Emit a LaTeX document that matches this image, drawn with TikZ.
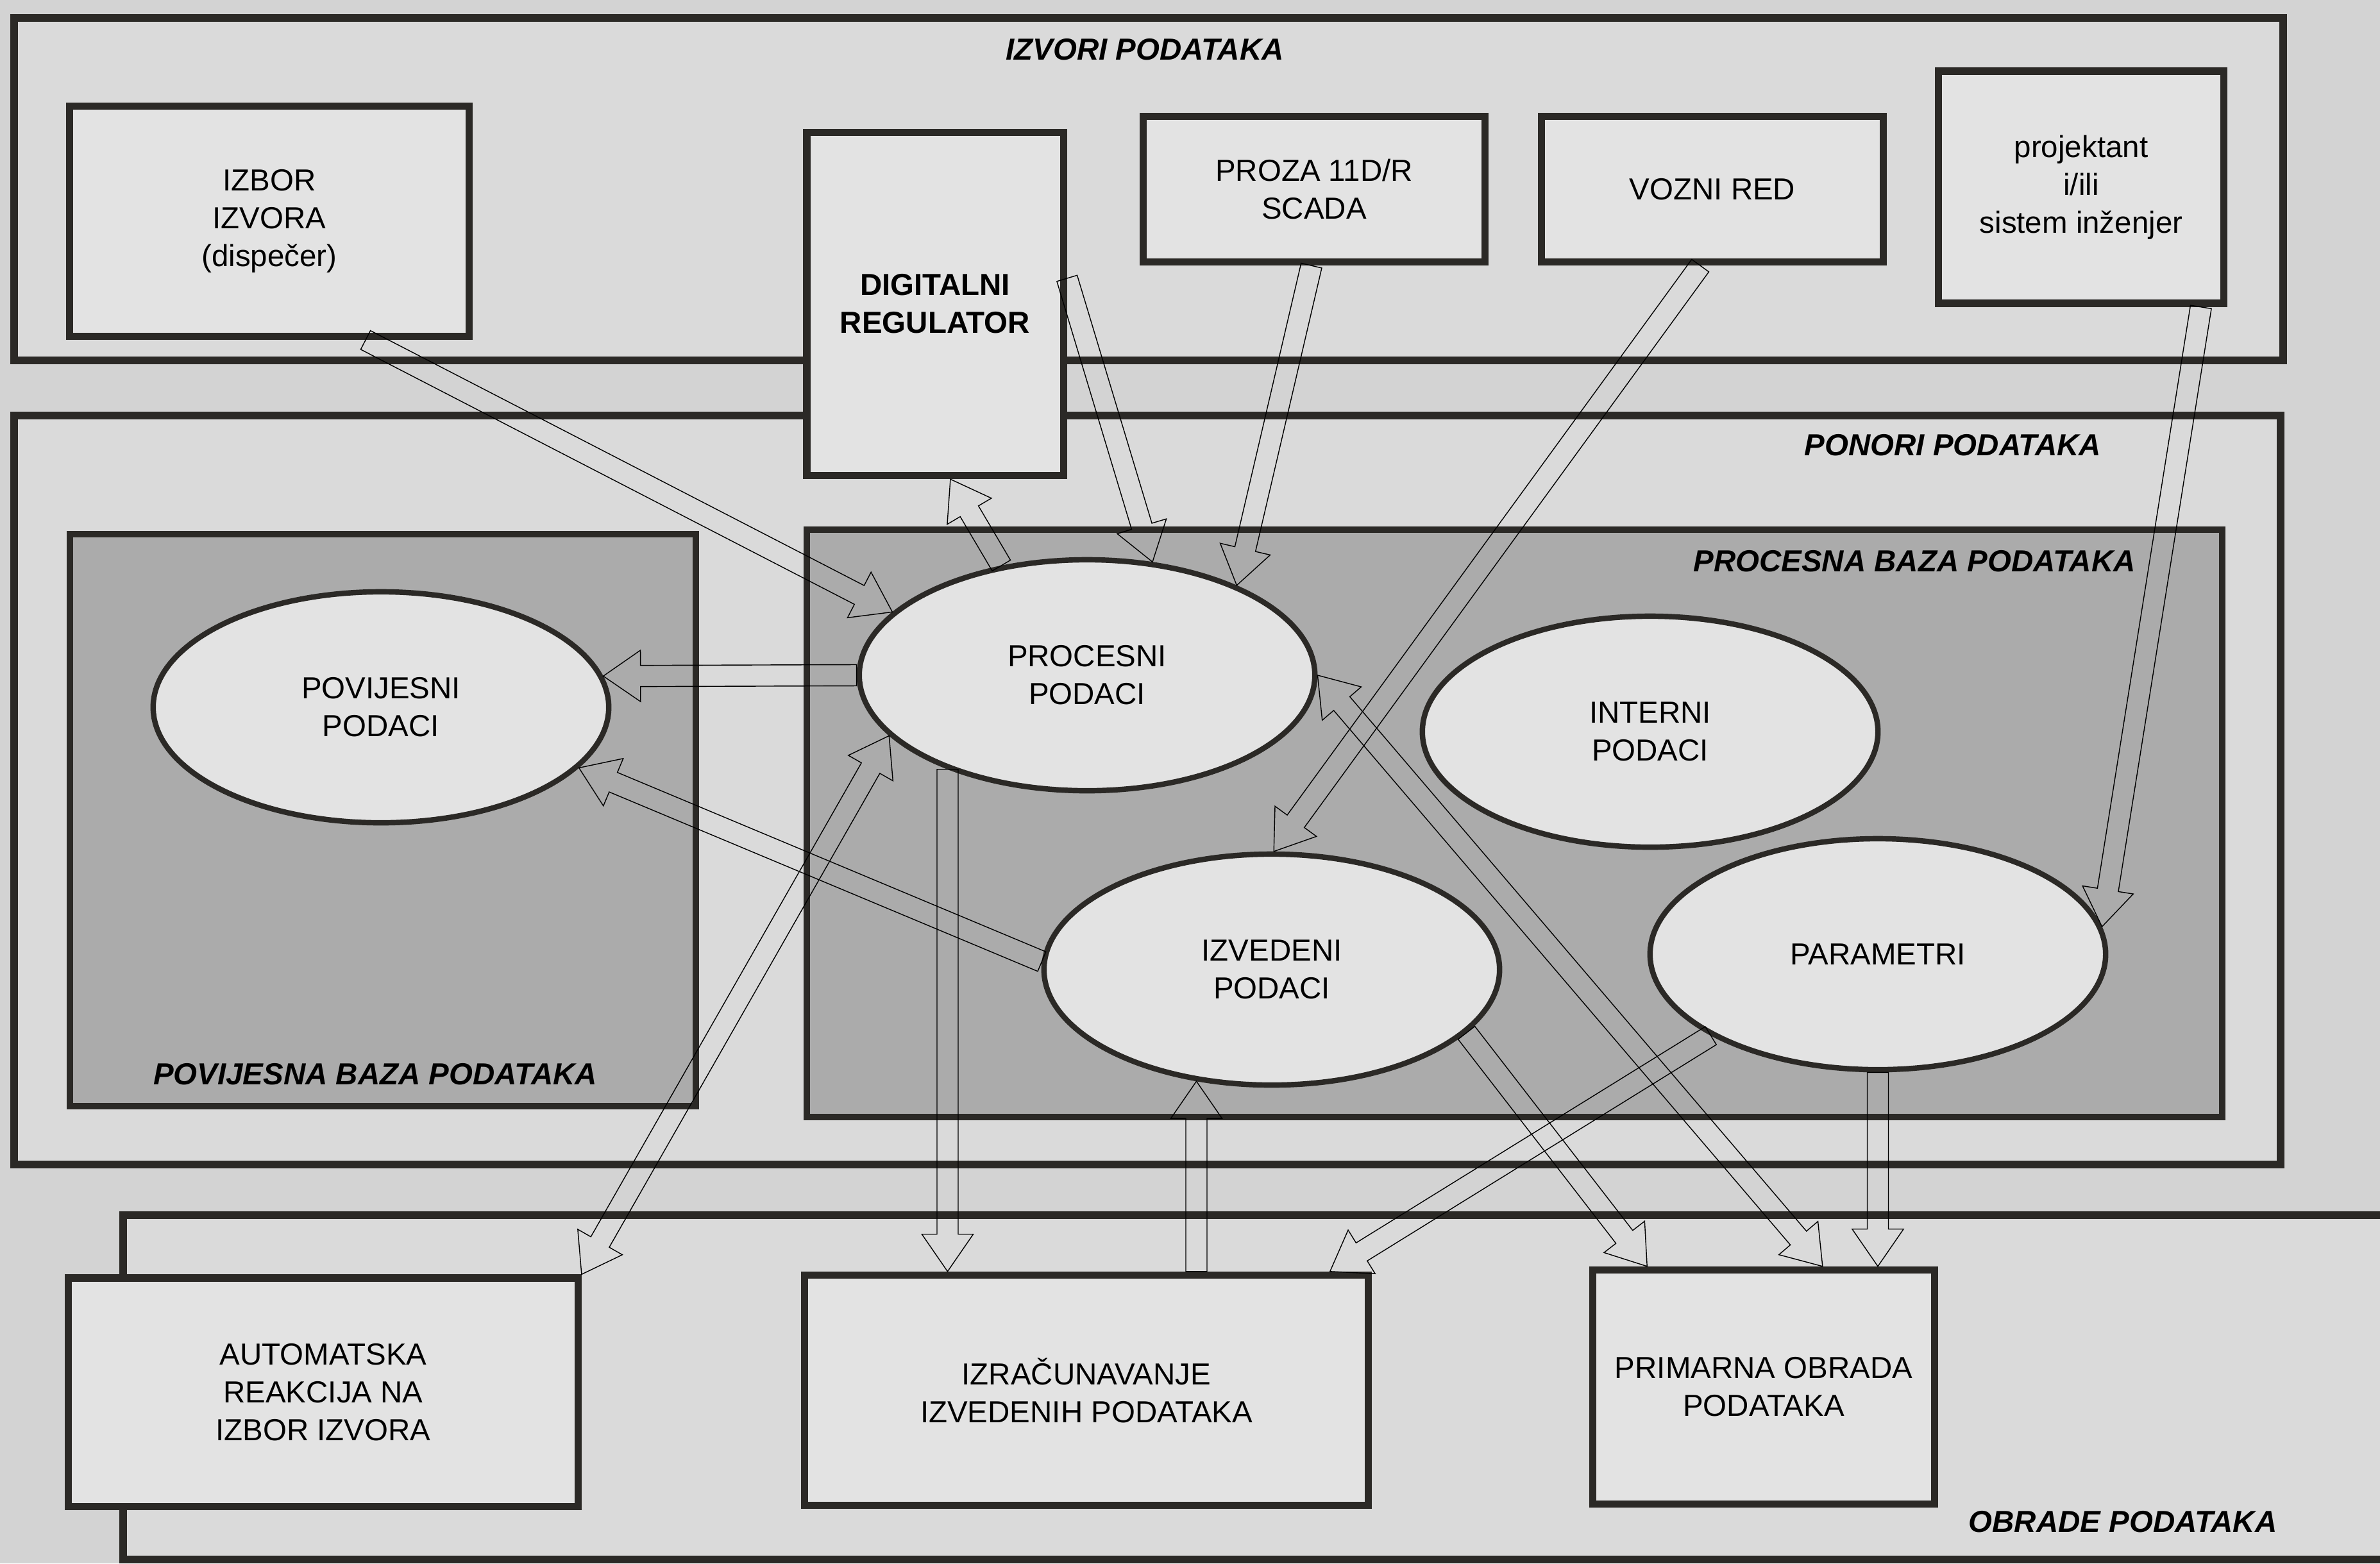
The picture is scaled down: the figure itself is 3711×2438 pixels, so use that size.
\documentclass[tikz,border=0pt]{standalone}
\usepackage{fontspec}
\setmainfont{Liberation Sans}
\usetikzlibrary{calc,shapes.geometric}

\definecolor{paper}{HTML}{D3D3D3}
\definecolor{framegray}{HTML}{DADADA}
\definecolor{basegray}{HTML}{ABABAB}
\definecolor{boxgray}{HTML}{E3E3E3}
\definecolor{ink}{HTML}{2B2926}
\definecolor{arrowgray}{HTML}{E6E6E6}

\newcommand{\shaftw}{0.165cm}
\newcommand{\headw}{0.4cm}
\newcommand{\headl}{0.58cm}

\tikzset{
	txt/.style={font=\fontsize{13.5}{16.8}\selectfont, align=center},
	title/.style={font=\fontsize{13.5}{16.8}\selectfont\bfseries\itshape},
	groupframe/.style={draw=ink, line width=3.2pt, fill=framegray},
	dbase/.style={draw=ink, line width=3pt, fill=basegray},
	databox/.style={rectangle, draw=ink, line width=3.2pt, fill=boxgray, inner sep=0pt, txt},
	store/.style={ellipse, draw=ink, line width=2.4pt, fill=boxgray, inner sep=0pt,
		minimum width=7.1cm, minimum height=3.6cm, txt},
	fatarrow/.style={draw=black, line width=1.1pt, fill=arrowgray, line join=miter,
		to path={let \p1=($(\tikztotarget)-(\tikztostart)$), \n1={atan2(\y1,\x1)} in
			($(\tikztostart)+(\n1+90:\shaftw)$)
			-- ($(\tikztotarget)+(\n1+180:\headl)+(\n1+90:\shaftw)$)
			-- ($(\tikztotarget)+(\n1+180:\headl)+(\n1+90:\headw)$)
			-- (\tikztotarget)
			-- ($(\tikztotarget)+(\n1+180:\headl)+(\n1-90:\headw)$)
			-- ($(\tikztotarget)+(\n1+180:\headl)+(\n1-90:\shaftw)$)
			-- ($(\tikztostart)+(\n1-90:\shaftw)$) -- cycle}},
	fatboth/.style={draw=black, line width=1.1pt, fill=arrowgray, line join=miter,
		to path={let \p1=($(\tikztotarget)-(\tikztostart)$), \n1={atan2(\y1,\x1)} in
			(\tikztostart)
			-- ($(\tikztostart)+(\n1:\headl)+(\n1+90:\headw)$)
			-- ($(\tikztostart)+(\n1:\headl)+(\n1+90:\shaftw)$)
			-- ($(\tikztotarget)+(\n1+180:\headl)+(\n1+90:\shaftw)$)
			-- ($(\tikztotarget)+(\n1+180:\headl)+(\n1+90:\headw)$)
			-- (\tikztotarget)
			-- ($(\tikztotarget)+(\n1+180:\headl)+(\n1-90:\headw)$)
			-- ($(\tikztotarget)+(\n1+180:\headl)+(\n1-90:\shaftw)$)
			-- ($(\tikztostart)+(\n1:\headl)+(\n1-90:\shaftw)$)
			-- ($(\tikztostart)+(\n1:\headl)+(\n1-90:\headw)$) -- cycle}},
}

\begin{document}
\begin{tikzpicture}[x=0.01cm, y=-0.01cm]
	\useasboundingbox (0,0) rectangle (3711,2438);
	\fill[paper] (0,0) rectangle (3711,2438);
	
	%Frames
	\draw[groupframe] (22,28) rectangle (3560,562);
	\draw[groupframe] (22,648) rectangle (3556,1816);
	\draw[groupframe] (192,1895) rectangle (3780,2432);
	\draw[dbase] (109,833) rectangle (1085,1725);
	\draw[dbase] (1258,826) rectangle (3465,1742);
	
	\node[title] (tsrc) at (1785,77) {IZVORI PODATAKA};
	\node[title] (tsink) at (3045,694) {PONORI PODATAKA};
	\node[title] (tproc) at (2985,875) {PROCESNA BAZA PODATAKA};
	\node[title] (thist) at (585,1675) {POVIJESNA BAZA PODATAKA};
	\node[title] (twork) at (3310,2373) {OBRADE PODATAKA};
	
	%Data
	\node[store] (pov) at (594,1103) {POVIJESNI\\PODACI};
	\node[store] (proc) at (1695,1053) {PROCESNI\\PODACI};
	\node[store] (int) at (2573,1141) {INTERNI\\PODACI};
	\node[store] (izv) at (1983,1512) {IZVEDENI\\PODACI};
	\node[store] (par) at (2928,1488) {PARAMETRI};
	
	%Sources
	\node[databox, minimum width=6.22cm, minimum height=3.59cm] (izbor) at (420,345) {IZBOR\\IZVORA\\(dispečer)};
	\node[databox, minimum width=4cm, minimum height=5.35cm, font=\fontsize{13.5}{16.8}\selectfont\bfseries] (reg) at (1458,474) {DIGITALNI\\REGULATOR};
	\node[databox, minimum width=5.33cm, minimum height=2.27cm] (proza) at (2049,295) {PROZA 11D/R\\SCADA};
	\node[databox, minimum width=5.33cm, minimum height=2.27cm] (vozni) at (2670,295) {VOZNI RED};
	\node[databox, minimum width=4.45cm, minimum height=3.62cm] (proj) at (3245,292) {projektant\\i/ili\\sistem inženjer};
	
	%Processing
	\node[databox, minimum width=7.94cm, minimum height=3.56cm] (auto) at (504,2171) {AUTOMATSKA\\REAKCIJA NA\\IZBOR IZVORA};
	\node[databox, minimum width=8.79cm, minimum height=3.59cm] (izr) at (1694,2168) {IZRAČUNAVANJE\\IZVEDENIH PODATAKA};
	\node[databox, minimum width=5.33cm, minimum height=3.65cm] (prim) at (2750,2163) {PRIMARNA OBRADA\\PODATAKA};
	
	%Flows
	\draw (izbor.-51) to[fatarrow] (proc.162);
	\draw (proc.128) to[fatarrow] (reg.-85);
	\draw (reg.11) to[fatarrow] (proc.60);
	\draw (proza.-92) to[fatarrow] (proc.31);
	\draw (vozni.-99) to[fatarrow] (izv.89);
	\draw (proj.-45) to[fatarrow] (par.7.5);
	\draw (proc.west) to[fatarrow] (pov.8);
	\draw (izv.178) to[fatarrow] (pov.-17);
	\draw (proc.-163) to[fatboth] (auto.north east);
	\draw (proc.214) to[fatarrow] (proc.214 |- izr.north);
	\draw (izv.236 |- izr.north) to[fatarrow] (izv.236);
	\draw (izv.-18) to[fatarrow] (prim.134);
	\draw (proc.east) to[fatboth] (prim.64.6);
	\draw (par.206) to[fatarrow] (izr.26);
	\draw (par.south) to[fatarrow] (par.south |- prim.north);
	
\end{tikzpicture}
\end{document}
